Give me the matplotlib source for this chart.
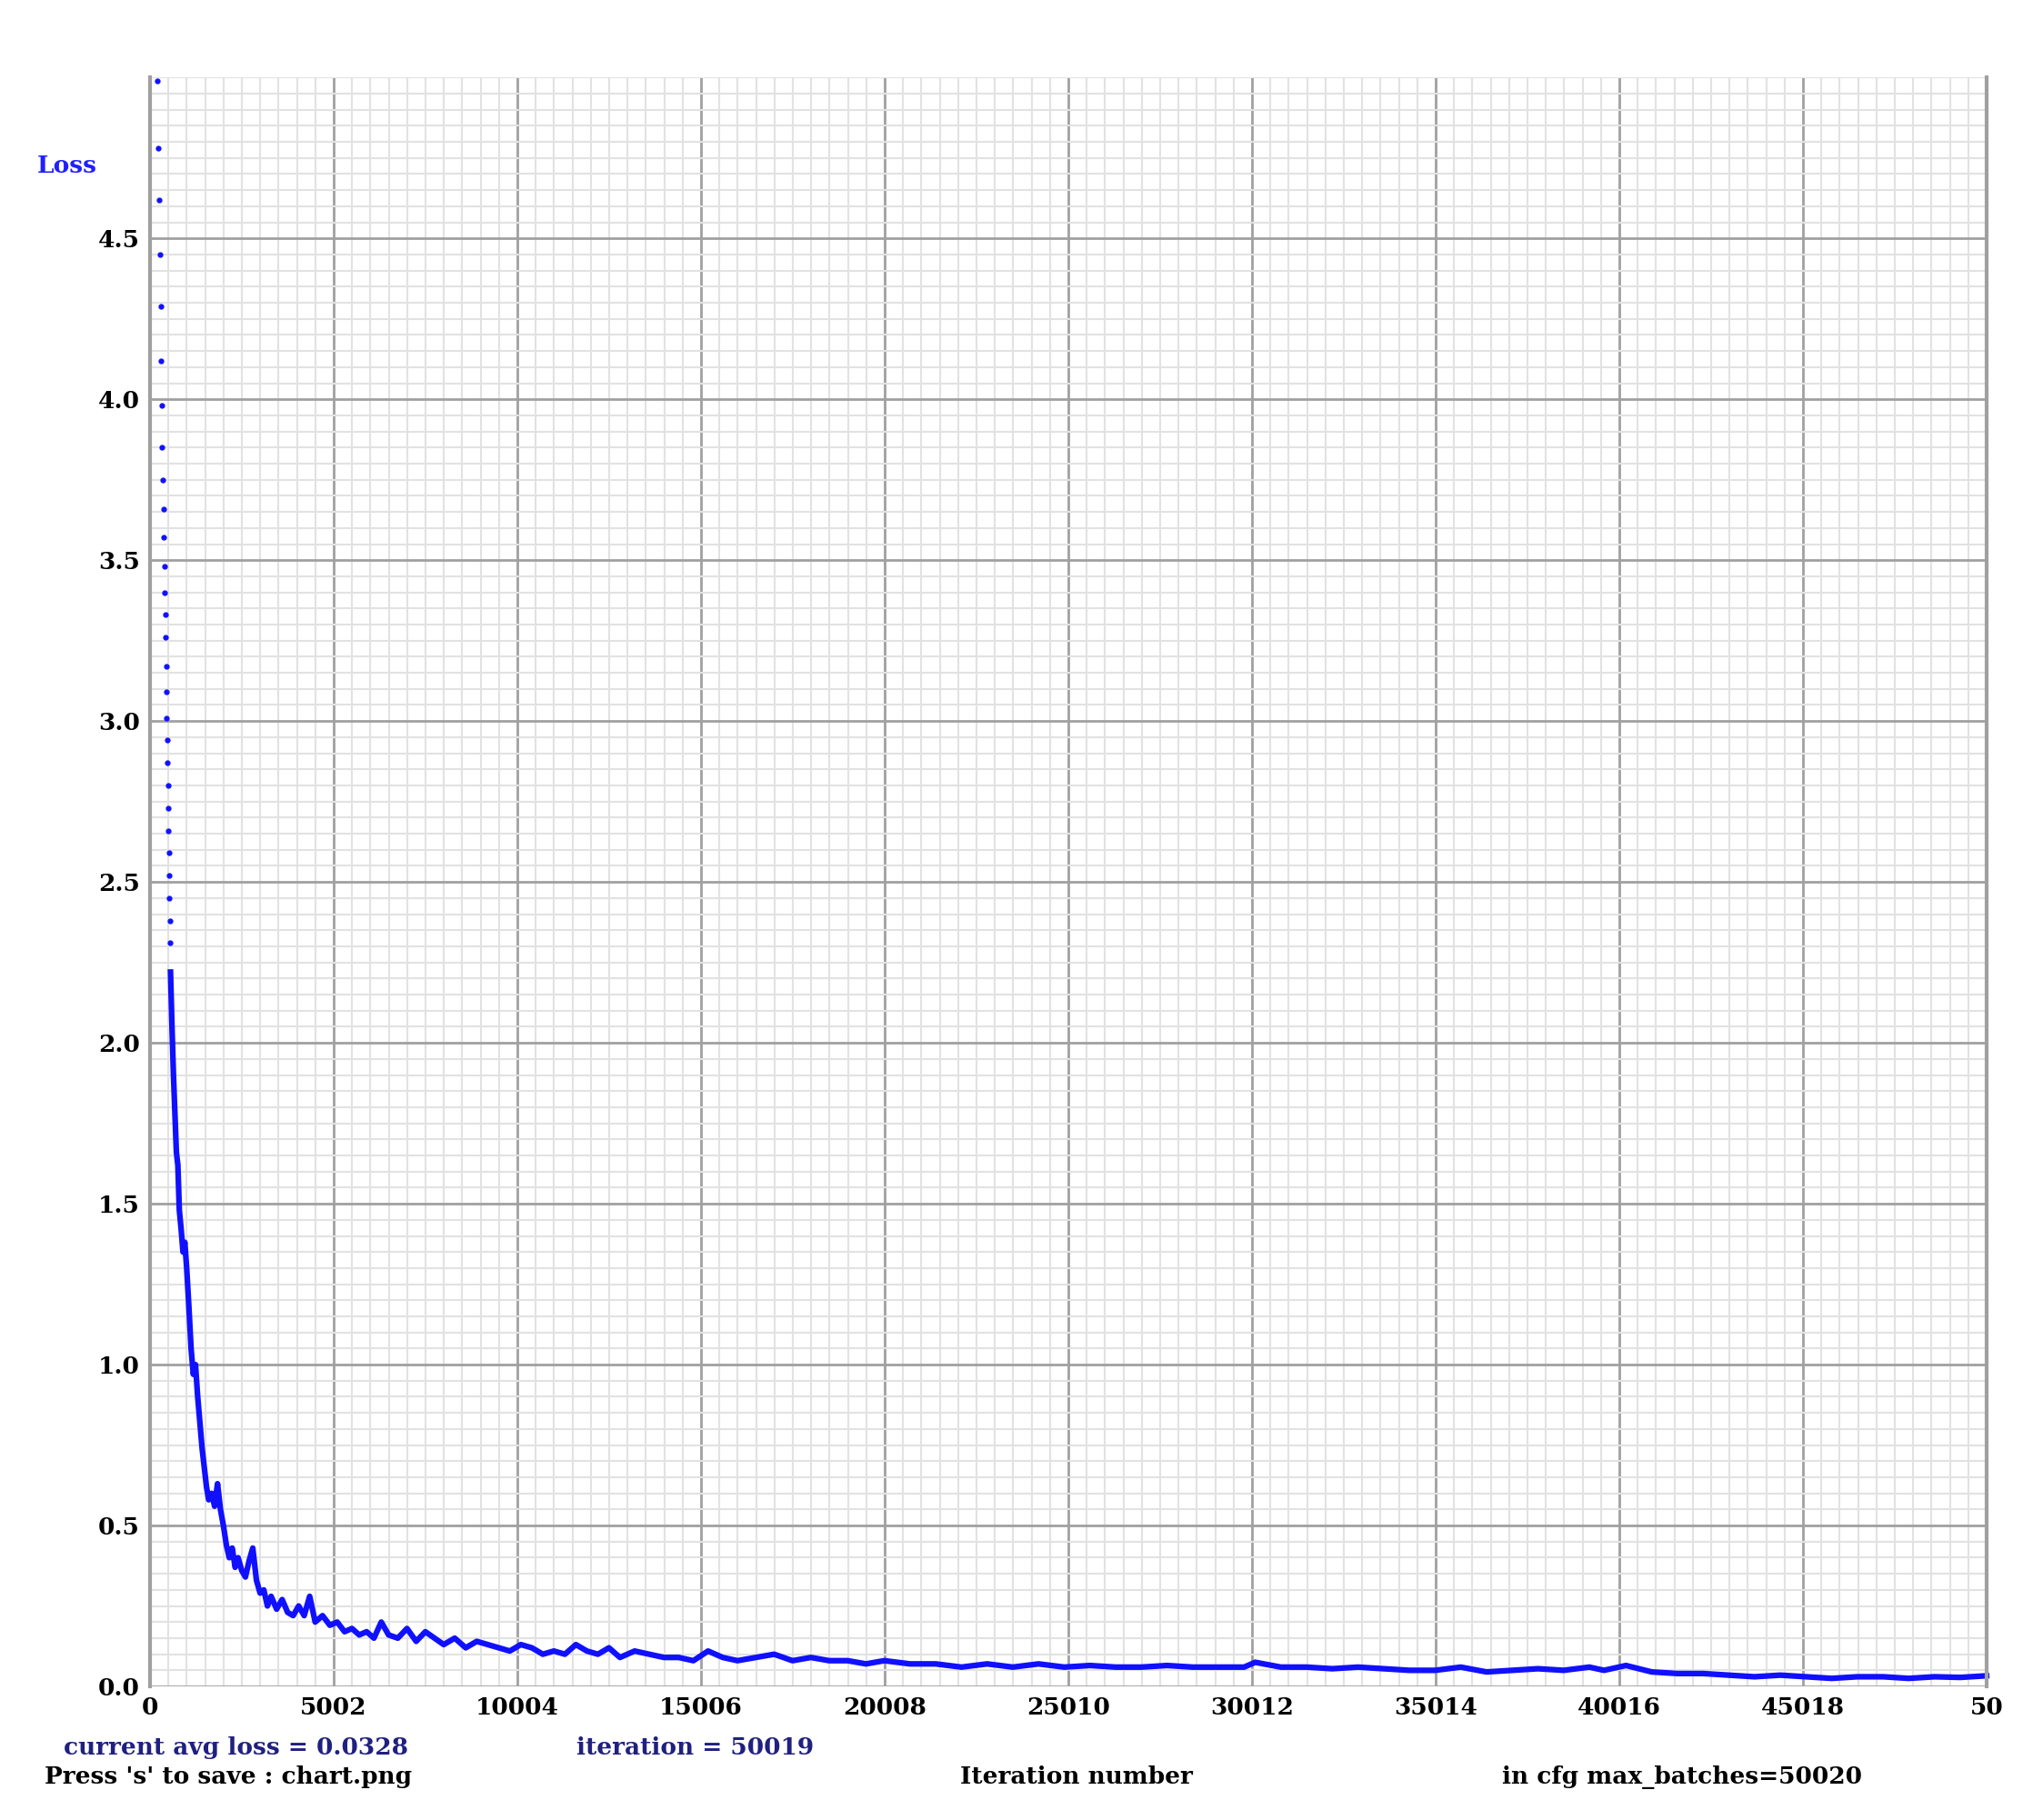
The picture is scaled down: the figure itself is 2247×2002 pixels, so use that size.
import matplotlib.pyplot as plt
import numpy as np

# early iterations, drawn as separate dots
early_iter = [200, 230, 250, 270, 290, 305, 320, 335, 350, 362, 375, 388, 400, 412, 424,
              436, 447, 458, 468, 478, 488, 497, 506, 515, 524, 533, 542, 550]
early_loss = [4.99, 4.78, 4.62, 4.45, 4.29, 4.12, 3.98, 3.85, 3.75, 3.66, 3.57, 3.48, 3.40,
              3.33, 3.26, 3.17, 3.09, 3.01, 2.94, 2.87, 2.80, 2.73, 2.66, 2.59, 2.52, 2.45,
              2.38, 2.31]

# rest of training, drawn as a thick line
iters = [560, 600, 640, 680, 720, 760, 800, 850, 900, 950, 1000, 1060, 1120, 1180, 1240,
         1300, 1360, 1420, 1480, 1540, 1600, 1680, 1760, 1840, 1920, 2000, 2080, 2160,
         2240, 2320, 2400, 2500, 2600, 2700, 2800, 2900, 3000, 3100, 3200, 3300, 3450,
         3600, 3750, 3900, 4050, 4200, 4350, 4500, 4700, 4900, 5100, 5300, 5500, 5700,
         5900, 6100, 6300, 6500, 6750, 7000, 7250, 7500, 7750, 8000, 8300, 8600, 8900,
         9200, 9500, 9800, 10100, 10400, 10700, 11000, 11300, 11600, 11900, 12200, 12500,
         12800, 13200, 13600, 14000, 14400, 14800, 15200, 15600, 16000, 16500, 17000,
         17500, 18000, 18500, 19000, 19500, 20000, 20700, 21400, 22100, 22800, 23500,
         24200, 24900, 25600, 26300, 27000, 27700, 28400, 29100, 29800, 30100, 30800,
         31500, 32200, 32900, 33600, 34300, 35000, 35700, 36400, 37100, 37800, 38500,
         39200, 39600, 40200, 40900, 41600, 42300, 43000, 43700, 44400, 45100, 45800,
         46500, 47200, 47900, 48600, 49300, 50019]
loss = [2.22, 2.05, 1.9, 1.78, 1.66, 1.62, 1.48, 1.42, 1.35, 1.38, 1.3, 1.18, 1.05, 0.97,
        1.0, 0.9, 0.82, 0.74, 0.68, 0.62, 0.58, 0.6, 0.56, 0.63, 0.55, 0.5, 0.44, 0.4,
        0.43, 0.37, 0.4, 0.36, 0.34, 0.39, 0.43, 0.33, 0.29, 0.3, 0.25, 0.28, 0.24, 0.27,
        0.23, 0.22, 0.25, 0.22, 0.28, 0.2, 0.22, 0.19, 0.2, 0.17, 0.18, 0.16, 0.17, 0.15,
        0.2, 0.16, 0.15, 0.18, 0.14, 0.17, 0.15, 0.13, 0.15, 0.12, 0.14, 0.13, 0.12, 0.11,
        0.13, 0.12, 0.1, 0.11, 0.1, 0.13, 0.11, 0.1, 0.12, 0.09, 0.11, 0.1, 0.09, 0.09, 0.08,
        0.11, 0.09, 0.08, 0.09, 0.1, 0.08, 0.09, 0.08, 0.08, 0.07, 0.08, 0.07, 0.07, 0.06,
        0.07, 0.06, 0.07, 0.06, 0.065, 0.06, 0.06, 0.065, 0.06, 0.06, 0.06, 0.075, 0.06,
        0.06, 0.055, 0.06, 0.055, 0.05, 0.05, 0.06, 0.045, 0.05, 0.055, 0.05, 0.06, 0.05,
        0.065, 0.045, 0.04, 0.04, 0.035, 0.03, 0.035, 0.03, 0.025, 0.03, 0.03, 0.025,
        0.03, 0.028, 0.033]

x_ticks = [0, 5002, 10004, 15006, 20008, 25010, 30012, 35014, 40016, 45018, 50020]
x_labels = ["0", "5002", "10004", "15006", "20008", "25010", "30012", "35014", "40016", "45018", "50"]
y_ticks = [0.0, 0.5, 1.0, 1.5, 2.0, 2.5, 3.0, 3.5, 4.0, 4.5]

fnt = "DejaVu Serif"
fig = plt.figure(figsize=(22.47, 20.02), dpi=100)
ax = fig.add_axes([0.0734, 0.0734, 0.899, 0.884])
ax.set_xlim(0, 50020)
ax.set_ylim(0, 5.0)

ax.set_xticks(x_ticks)
ax.set_xticklabels(x_labels, fontsize=19, fontweight="bold", family=fnt)
ax.set_yticks(y_ticks)
ax.set_yticklabels(["%.1f" % v for v in y_ticks], fontsize=19, fontweight="bold", family=fnt)
ax.set_xticks(np.arange(0, 50021, 500.2), minor=True)
ax.set_yticks(np.arange(0, 5.001, 0.05), minor=True)
ax.tick_params(length=0, which="both", pad=8)
ax.grid(True, which="major", color="#a0a0a0", linewidth=2)
ax.grid(True, which="minor", color="#e2e2e2", linewidth=1.5)
ax.set_axisbelow(True)
for s in ["top", "bottom"]:
    ax.spines[s].set_visible(False)
for s in ["left", "right"]:
    ax.spines[s].set_color("#a0a0a0")
    ax.spines[s].set_linewidth(3)

ax.plot(early_iter, early_loss, "o", color="#1010ff", ms=3.5, clip_on=False)
ax.plot(iters, loss, color="#1010ff", linewidth=4.5, clip_on=False)

fig.text(0.018, 0.905, "Loss", color="#2020ff", fontsize=19, fontweight="bold", family=fnt)
fig.text(0.031, 0.036, "current avg loss = 0.0328", color="#202080", fontsize=19,
         fontweight="bold", family=fnt)
fig.text(0.282, 0.036, "iteration = 50019", color="#202080", fontsize=19,
         fontweight="bold", family=fnt)
fig.text(0.022, 0.020, "Press 's' to save : chart.png", color="black", fontsize=19,
         fontweight="bold", family=fnt)
fig.text(0.47, 0.020, "Iteration number", color="black", fontsize=19,
         fontweight="bold", family=fnt)
fig.text(0.735, 0.020, "in cfg max_batches=50020", color="black", fontsize=19,
         fontweight="bold", family=fnt)

fig.savefig("out.png", dpi=100, facecolor="white")
